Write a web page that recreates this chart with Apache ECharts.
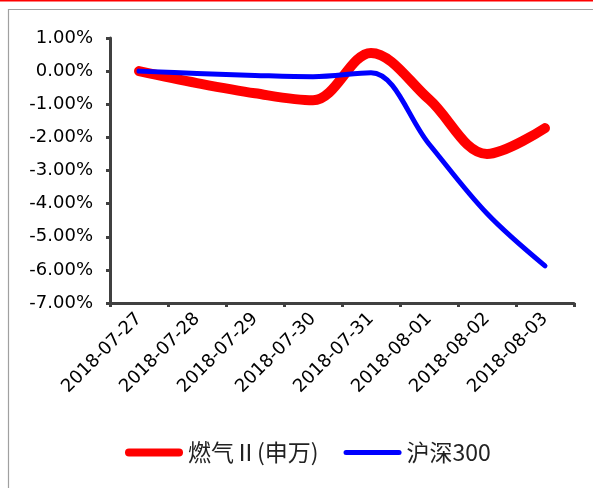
<!DOCTYPE html>
<html>
<head>
<meta charset="utf-8">
<script src="https://cdn.jsdelivr.net/npm/echarts@6/dist/echarts.min.js"></script>
<style>
html,body{margin:0;padding:0;background:#fff;}
#c{width:593px;height:488px;}
</style>
</head>
<body>
<div id="c"></div>
<script>
var categories = ['2018-07-27','2018-07-28','2018-07-29','2018-07-30','2018-07-31','2018-08-01','2018-08-02','2018-08-03'];
var gasValues = [0, -0.36, -0.67, -0.88, 0.55, -0.85, -2.5, -1.72];
var hs300Values = [0, -0.07, -0.13, -0.17, -0.05, -2.2, -4.3, -5.88];
var seriesNames = ['燃气Ⅱ(申万)', '沪深300'];

var chart = echarts.init(document.getElementById('c'));
chart.setOption({
  animation: false,
  backgroundColor: '#fff',
  graphic: [
    {type:'rect', left:0, top:0, shape:{width:593, height:1.5}, style:{fill:'#ff0000'}},
    {type:'rect', shape:{x:8.5, y:9.5, width:700, height:600}, style:{fill:'none', stroke:'#a0a0a0', lineWidth:1.2}}
  ],
  grid: {left:110, right:19, top:38, bottom:185, containLabel:false},
  legend: {
    left: 120, top: 436,
    itemWidth: 58, itemHeight: 10, itemGap: 25,
    textStyle: {fontFamily:'"Noto Sans CJK SC", sans-serif', fontSize:23, color:'#222'},
    data: [
      {name: seriesNames[0], icon: 'path://M4,0 L54,0 A4,4 0 0 1 54,8 L4,8 A4,4 0 0 1 4,0 Z', itemStyle:{color:'#ff0000'}},
      {name: seriesNames[1], icon: 'path://M2.5,0 L55.5,0 A2.5,2.5 0 0 1 55.5,5 L2.5,5 A2.5,2.5 0 0 1 2.5,0 Z', itemStyle:{color:'#0000ff'}}
    ]
  },
  xAxis: {
    type:'category',
    data: categories,
    boundaryGap: true,
    axisLine: {onZero:false, lineStyle:{color:'#404040', width:3}},
    axisTick: {show:true, length:4, lineStyle:{color:'#404040', width:3}},
    axisLabel: {rotate:45, fontFamily:'"DejaVu Sans", sans-serif', fontSize:18, color:'#000', margin:13, interval:0}
  },
  yAxis: {
    type:'value',
    min:-7, max:1, interval:1,
    axisLine: {show:true, lineStyle:{color:'#404040', width:3}},
    axisTick: {show:true, length:4, lineStyle:{color:'#404040', width:3}},
    splitLine: {show:false},
    axisLabel: {fontFamily:'"DejaVu Sans", sans-serif', fontSize:18, color:'#000', margin:17,
      formatter: function(v){ return v.toFixed(2) + '%'; }}
  },
  series: [
    {name: seriesNames[0], type:'line', data: gasValues, smooth:0.35, symbol:'none',
     lineStyle:{color:'#ff0000', width:10, cap:'round', join:'round'}, itemStyle:{color:'#ff0000'}, z:2},
    {name: seriesNames[1], type:'line', data: hs300Values, smooth:0.35, symbol:'none',
     lineStyle:{color:'#0000ff', width:5, cap:'round', join:'round'}, itemStyle:{color:'#0000ff'}, z:3}
  ]
});
</script>
</body>
</html>
